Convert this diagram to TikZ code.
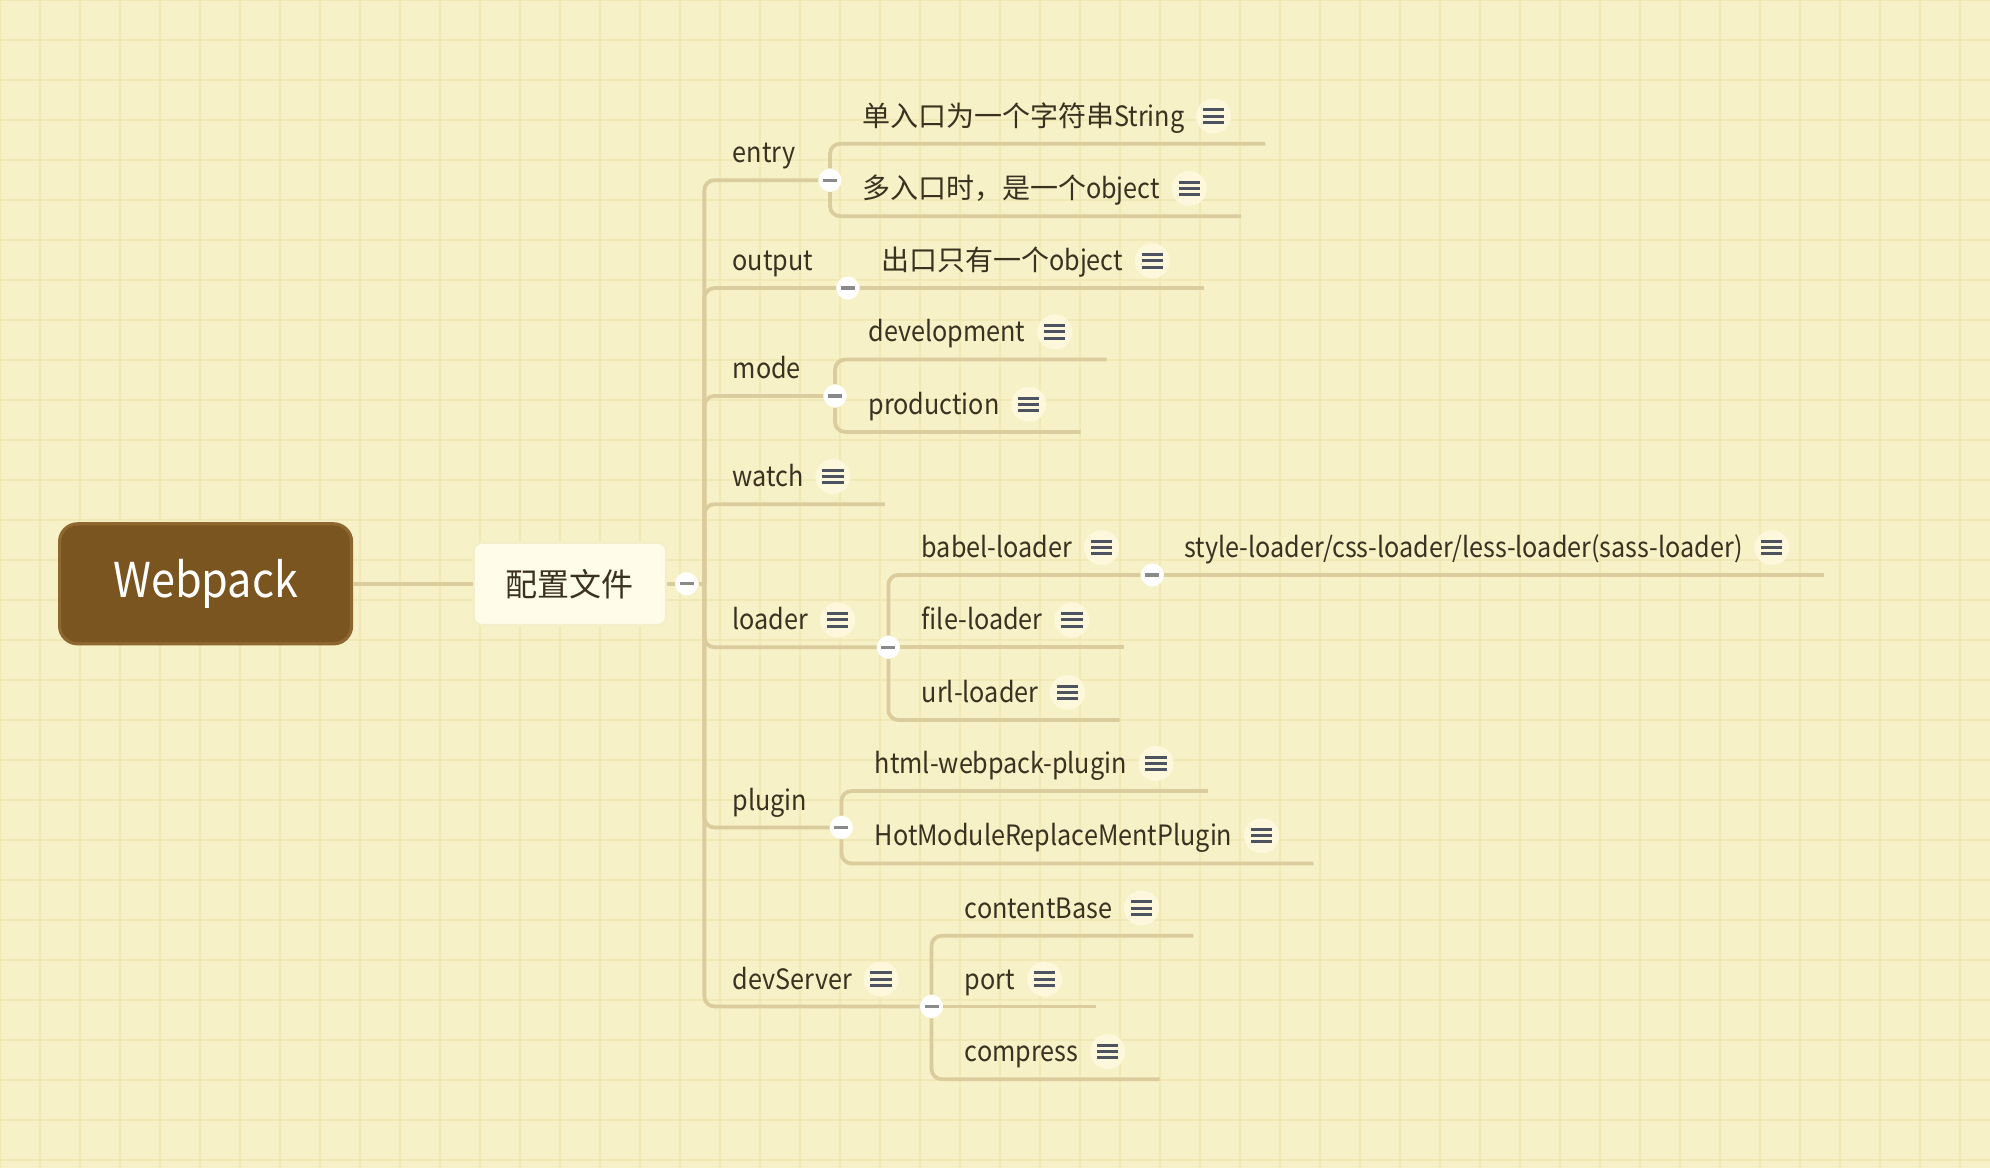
\documentclass[tikz,border=0pt]{standalone}
\usepackage{fontspec}
\setmainfont{Noto Sans CJK SC}[FakeStretch=0.9]
\newfontfamily\cjk{Noto Sans CJK SC}
\usetikzlibrary{positioning,calc}
\definecolor{paper}{HTML}{F7F1C7}
\definecolor{gridc}{HTML}{F1E8B6}
\definecolor{twig}{HTML}{DBCC9E}
\definecolor{ink}{HTML}{3B3120}
\definecolor{rootfill}{HTML}{7B5520}
\definecolor{rootedge}{HTML}{8E6630}
\definecolor{mainfill}{HTML}{FFFDE9}
\definecolor{mainedge}{HTML}{F4EECB}
\definecolor{notebg}{HTML}{FDF8DC}
\definecolor{notefg}{HTML}{4D5361}
\definecolor{foldbar}{HTML}{8A8A8A}

\begin{document}
\begin{tikzpicture}[x=0.6346pt, y=-0.6346pt, every node/.style={font=\fontsize{14}{17}\selectfont, text=ink}]
\tikzset{root/.style={draw=rootedge, line width=1.6pt, fill=rootfill, rounded corners=9pt, minimum width=146pt, minimum height=60pt, text=white, font=\fontsize{24}{28}\selectfont}}
\tikzset{main/.style={draw=mainedge, line width=1pt, fill=mainfill, rounded corners=4pt, minimum width=96pt, minimum height=41pt, font=\fontsize{16}{19}\selectfont\cjk}}
\tikzset{topic/.style={anchor=west, inner xsep=0pt, inner ysep=5.64pt, text height=13pt, text depth=3pt}}
\tikzset{note/.style={circle, fill=notebg, minimum size=17.5pt, inner sep=0pt, path picture={
  \foreach \k in {-3.1pt,0pt,3.1pt}
    \draw[notefg, line width=1.5pt] ([xshift=-5.3pt,yshift=\k]path picture bounding box.center) -- ([xshift=5.3pt,yshift=\k]path picture bounding box.center);}}}
\tikzset{fold/.style={circle, fill=white, minimum size=11.5pt, inner sep=0pt, path picture={
  \draw[foldbar, line width=1.6pt] ([xshift=-3.5pt]path picture bounding box.center) -- ([xshift=3.5pt]path picture bounding box.center);}}}
\tikzset{limb/.style={draw=twig, line width=1.9pt, rounded corners=5pt}}

% paper with grid
\useasboundingbox (0,0) rectangle (1568,920);
\fill[paper] (0,0) rectangle (1568,920);
\foreach \i in {0,...,49} \draw[gridc, line width=0.8pt] (\i*31.52,0) -- (\i*31.52,920);
\foreach \j in {0,...,29} \draw[gridc, line width=0.8pt] (0,\j*31.52) -- (1568,\j*31.52);

% root and main topic
\node[root] (webpack) at (162,460) {Webpack};
\node[main] (config) at (449,460) {配置文件};
\node[fold] (configF) at (541,460) {};
\coordinate (trunk) at (555,460);
\draw[limb] (webpack) -- (config);
\draw[limb] (config) -- (configF);
\draw[limb] (configF) -- (trunk);

% first level
\node[topic] (entry) at (577,120.5) {entry};
\node[topic] (output) at (577,205.5) {output};
\node[topic] (mode) at (577,290.5) {mode};
\node[topic] (watch) at (577,375.5) {watch};
\node[note, right=5.5pt of watch] (watchI) {};
\node[topic] (loader) at (577,488.5) {loader};
\node[note, right=5.5pt of loader] (loaderI) {};
\node[topic] (plugin) at (577,630.5) {plugin};
\node[topic] (dev) at (577,771.5) {devServer};
\node[note, right=5.5pt of dev] (devI) {};

\node[fold] (entryF) at (654,142) {};
\node[fold] (outputF) at (668,227) {};
\node[fold] (modeF) at (658,312) {};
\node[fold] (loaderF) at (700,510) {};
\node[fold] (pluginF) at (663,652) {};
\node[fold] (devF) at (734,793) {};
\coordinate (watchE) at ($(watchI.east |- watch.south)+(17pt,0)$);

\foreach \t in {entryF,outputF,modeF,loaderF,pluginF,devF}
  \draw[limb] (trunk) |- (\t);
\draw[limb] (trunk) |- (watchE);

% entry
\node[topic] (e1) at (679,91.5) {{\cjk 单入口为一个字符串}String};
\node[note, right=5.5pt of e1] (e1I) {};
\node[topic] (e2) at (679,148.5) {{\cjk 多入口时，是一个}object};
\node[note, right=5.5pt of e2] (e2I) {};
\coordinate (e1E) at ($(e1I.east |- e1.south)+(17pt,0)$);
\coordinate (e2E) at ($(e2I.east |- e2.south)+(17pt,0)$);
\draw[limb] (entryF) |- (e1E);
\draw[limb] (entryF) |- (e2E);

% output
\node[topic] (o1) at (694,205.5) {{\cjk 出口只有一个}object};
\node[note, right=5.5pt of o1] (o1I) {};
\coordinate (o1E) at ($(o1I.east |- outputF)+(17pt,0)$);
\draw[limb] (outputF) -- (o1E);

% mode
\node[topic] (m1) at (684,261.5) {development};
\node[note, right=5.5pt of m1] (m1I) {};
\node[topic] (m2) at (684,318.5) {production};
\node[note, right=5.5pt of m2] (m2I) {};
\coordinate (m1E) at ($(m1I.east |- m1.south)+(17pt,0)$);
\coordinate (m2E) at ($(m2I.east |- m2.south)+(17pt,0)$);
\draw[limb] (modeF) |- (m1E);
\draw[limb] (modeF) |- (m2E);

% loader
\node[topic] (l1) at (726,431.5) {babel-loader};
\node[note, right=5.5pt of l1] (l1I) {};
\node[fold] (babelF) at (908,453) {};
\node[topic] (l11) at (933,431.5) {style-loader/css-loader/less-loader(sass-loader)};
\node[note, right=5.5pt of l11] (l11I) {};
\node[topic] (l2) at (726,488.5) {file-loader};
\node[note, right=5.5pt of l2] (l2I) {};
\node[topic] (l3) at (726,545.5) {url-loader};
\node[note, right=5.5pt of l3] (l3I) {};
\coordinate (l11E) at ($(l11I.east |- babelF)+(17pt,0)$);
\coordinate (l2E) at ($(l2I.east |- loaderF)+(17pt,0)$);
\coordinate (l3E) at ($(l3I.east |- l3.south)+(17pt,0)$);
\draw[limb] (loaderF) |- (babelF);
\draw[limb] (babelF) -- (l11E);
\draw[limb] (loaderF) -- (l2E);
\draw[limb] (loaderF) |- (l3E);

% plugin
\node[topic] (p1) at (689,601.5) {html-webpack-plugin};
\node[note, right=5.5pt of p1] (p1I) {};
\node[topic] (p2) at (689,658.5) {HotModuleReplaceMentPlugin};
\node[note, right=5.5pt of p2] (p2I) {};
\coordinate (p1E) at ($(p1I.east |- p1.south)+(17pt,0)$);
\coordinate (p2E) at ($(p2I.east |- p2.south)+(17pt,0)$);
\draw[limb] (pluginF) |- (p1E);
\draw[limb] (pluginF) |- (p2E);

% devServer
\node[topic] (d1) at (760,715.5) {contentBase};
\node[note, right=5.5pt of d1] (d1I) {};
\node[topic] (d2) at (760,771.5) {port};
\node[note, right=5.5pt of d2] (d2I) {};
\node[topic] (d3) at (760,828.5) {compress};
\node[note, right=5.5pt of d3] (d3I) {};
\coordinate (d1E) at ($(d1I.east |- d1.south)+(17pt,0)$);
\coordinate (d2E) at ($(d2I.east |- devF)+(17pt,0)$);
\coordinate (d3E) at ($(d3I.east |- d3.south)+(17pt,0)$);
\draw[limb] (devF) |- (d1E);
\draw[limb] (devF) -- (d2E);
\draw[limb] (devF) |- (d3E);
\end{tikzpicture}
\end{document}
